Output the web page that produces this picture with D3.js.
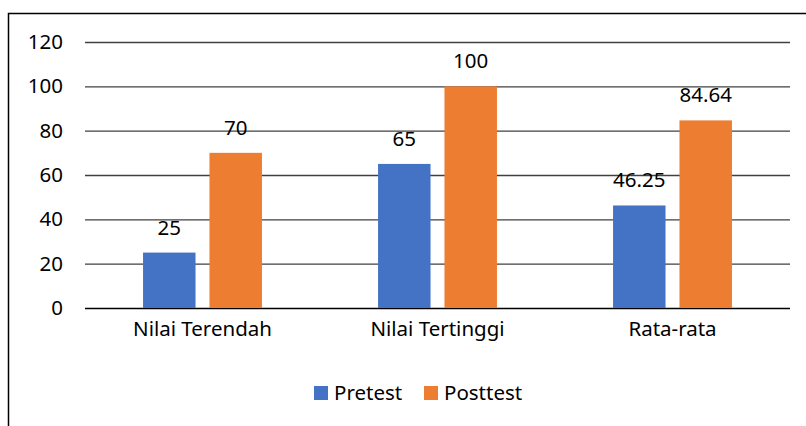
<!DOCTYPE html>
<html>
<head>
<meta charset="utf-8">
<script src="https://cdn.jsdelivr.net/npm/d3@7"></script>
<style>
  body { margin: 0; background: #fff; }
  text { font-family: "Noto Sans", "Open Sans", sans-serif; fill: #000; }
</style>
</head>
<body>
<div class="canvas"></div>
<script>
// data
const categories = ['Nilai Terendah', 'Nilai Tertinggi', 'Rata-rata'];
const series = ['Pretest', 'Posttest'];
const pretest = [25, 65, 46.25];
const posttest = [70, 100, 84.64];
const labels = { Pretest: ['25', '65', '46.25'], Posttest: ['70', '100', '84.64'] };
const yTicks = [0, 20, 40, 60, 80, 100, 120];
const colors = ['#4472c4', '#ed7d31'];

const values = { Pretest: pretest, Posttest: posttest };
const fontSize = 20.5;

const svg = d3.select('.canvas')
  .append('svg')
  .attr('width', 806)
  .attr('height', 426);

// outer frame (runs off the right/bottom edge)
svg.append('rect')
  .attr('x', 8.5).attr('y', 13.5)
  .attr('width', 830).attr('height', 450)
  .attr('fill', 'none')
  .attr('stroke', '#000')
  .attr('stroke-width', 1.5);

const plotLeft = 85, plotRight = 790;

const y = d3.scaleLinear()
  .domain([0, 120])
  .range([308, 42]);

const x0 = d3.scaleBand()
  .domain(categories)
  .range([plotLeft, plotRight])
  .paddingInner(0.494)
  .paddingOuter(0.247);

const x1 = d3.scaleBand()
  .domain(series)
  .range([0, x0.bandwidth()])
  .paddingInner(0.21);

// gridlines + y labels
const yAxis = d3.axisLeft(y)
  .tickValues(yTicks)
  .tickSize(-(plotRight - plotLeft))
  .tickPadding(22);

const yAxisGroup = svg.append('g')
  .attr('transform', `translate(${plotLeft}, 0)`)
  .call(yAxis);

yAxisGroup.select('.domain').remove();
yAxisGroup.selectAll('line')
  .attr('stroke', d => d === 0 ? '#000' : '#404040')
  .attr('stroke-width', 1.3);
yAxisGroup.selectAll('text')
  .attr('font-size', fontSize)
  .attr('font-family', '"Noto Sans", sans-serif')
  .attr('fill', '#000');

// bars
const groups = svg.selectAll('g.cat')
  .data(categories)
  .enter()
  .append('g')
  .attr('class', 'cat')
  .attr('transform', d => `translate(${x0(d)}, 0)`);

groups.selectAll('rect')
  .data((d, i) => series.map((s, j) => ({ s, j, v: values[s][i], label: labels[s][i] })))
  .enter()
  .append('rect')
  .attr('x', d => x1(d.s))
  .attr('y', d => y(d.v))
  .attr('width', x1.bandwidth())
  .attr('height', d => y(0) - y(d.v))
  .attr('fill', d => colors[d.j]);

groups.selectAll('text.val')
  .data((d, i) => series.map((s, j) => ({ s, j, v: values[s][i], label: labels[s][i] })))
  .enter()
  .append('text')
  .attr('class', 'val')
  .attr('x', d => x1(d.s) + x1.bandwidth() / 2)
  .attr('y', d => y(d.v) - 18)
  .attr('text-anchor', 'middle')
  .attr('font-size', fontSize)
  .text(d => d.label);

// category labels
const xAxis = d3.axisBottom(x0).tickSize(0).tickPadding(13);
const xAxisGroup = svg.append('g')
  .attr('transform', `translate(0, ${y(0)})`)
  .call(xAxis);
xAxisGroup.select('.domain').remove();
xAxisGroup.selectAll('text')
  .attr('font-size', fontSize)
  .attr('font-family', '"Noto Sans", sans-serif')
  .attr('fill', '#000');

// legend
const legendX = [314, 424];
const legend = svg.selectAll('g.legend')
  .data(series)
  .enter()
  .append('g')
  .attr('class', 'legend')
  .attr('transform', (d, i) => `translate(${legendX[i]}, 386)`);

legend.append('rect')
  .attr('width', 14).attr('height', 14)
  .attr('fill', (d, i) => colors[i]);

legend.append('text')
  .attr('x', 20)
  .attr('y', 14)
  .attr('font-size', fontSize)
  .text(d => d);
</script>
</body>
</html>
